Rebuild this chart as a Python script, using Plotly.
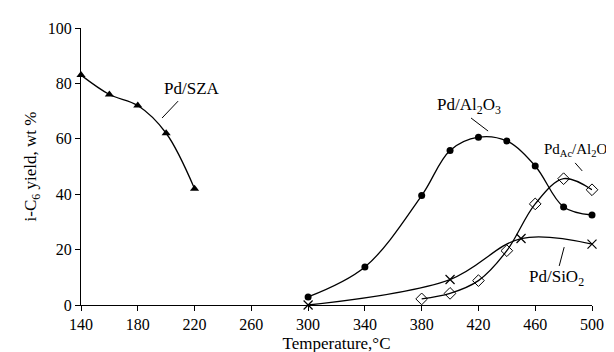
import plotly.graph_objects as go

temp_sza = [140, 160, 180, 200, 220]
yield_sza = [83, 76, 72, 62, 42]

temp_al = [300, 340, 380, 400, 420, 440, 460, 480, 500]
yield_al = [2.9, 13.7, 39.5, 55.8, 60.6, 59.2, 50.2, 35.4, 32.5]

temp_ac = [380, 400, 420, 440, 460, 480, 500]
yield_ac = [2.2, 4.2, 8.8, 19.6, 36.5, 45.6, 41.6]

temp_si = [300, 400, 450, 500]
yield_si = [0, 9.2, 24, 22]

x_ticks = [140, 180, 220, 260, 300, 340, 380, 420, 460, 500]
y_ticks = [0, 20, 40, 60, 80, 100]

FONT = "Liberation Serif"

fig = go.Figure()
line = dict(color="black", width=1.3, shape="spline", smoothing=1)
fig.add_trace(go.Scatter(x=temp_sza, y=yield_sza, mode="lines+markers", line=line,
                         marker=dict(symbol="triangle-up", size=8, color="black"), cliponaxis=False))
fig.add_trace(go.Scatter(x=temp_al, y=yield_al, mode="lines+markers", line=line,
                         marker=dict(symbol="circle", size=7, color="black"), cliponaxis=False))
fig.add_trace(go.Scatter(x=temp_ac, y=yield_ac, mode="lines+markers", line=line,
                         marker=dict(symbol="diamond-open", size=9, color="black", line=dict(width=1)),
                         cliponaxis=False))
fig.add_trace(go.Scatter(x=temp_si, y=yield_si, mode="lines+markers", line=line,
                         marker=dict(symbol="x-thin-open", size=9, color="black", line=dict(width=1.2, color="black")),
                         cliponaxis=False))

leaders = [
    ((208.4, 73.6), (197.1, 67.5)),
    ((414.8, 67.5), (426.8, 62.8)),
    ((488.1, 51.3), (493.1, 48.4)),
    ((476.9, 14.1), (480.4, 20.9)),
]
for (x0, y0), (x1, y1) in leaders:
    fig.add_shape(type="line", x0=x0, y0=y0, x1=x1, y1=y1, xref="x", yref="y",
                  line=dict(color="black", width=1))

labels = [
    ("Pd/SZA", 218.0, 78.3, 17, "center"),
    ("Pd/Al<sub>2</sub>O<sub>3</sub>", 413.5, 71.8, 17, "center"),
    ("Pd/SiO<sub>2</sub>", 474.8, 9.7, 17, "center"),
]
for txt, x, y, fs, anchor in labels:
    fig.add_annotation(text=txt, x=x, y=y, xref="x", yref="y", showarrow=False,
                       xanchor=anchor, font=dict(family=FONT, size=fs, color="black"))
# label that runs past the right end of the axis: placed in paper coordinates
fig.add_annotation(text="Pd<sub>Ac</sub>/Al<sub>2</sub>O<sub>3</sub>", x=0.905, y=56.0,
                   xref="paper", yref="y", showarrow=False, xanchor="left",
                   borderpad=0, font=dict(family=FONT, size=15, color="black"))

fig.update_layout(
    width=614, height=352,
    margin=dict(l=73, r=30, t=20, b=55),
    paper_bgcolor="white", plot_bgcolor="white",
    showlegend=False,
    font=dict(family=FONT, size=16, color="black"),
)
fig.update_xaxes(range=[140, 500], tickvals=x_ticks, showgrid=False, zeroline=False,
                 showline=True, linecolor="black", linewidth=1.3, ticks="outside",
                 ticklen=5, tickcolor="black", tickfont=dict(size=16),
                 title=dict(text="Temperature,°C", font=dict(family=FONT, size=17), standoff=4))
fig.update_yaxes(range=[0, 100], tickvals=y_ticks, showgrid=False, zeroline=False,
                 showline=True, linecolor="black", linewidth=1.3, ticks="outside",
                 ticklen=5, tickcolor="black", tickfont=dict(size=16),
                 title=dict(text="i-C<sub>6</sub> yield, wt %", font=dict(family=FONT, size=17), standoff=6))

fig.write_html("out.html")
